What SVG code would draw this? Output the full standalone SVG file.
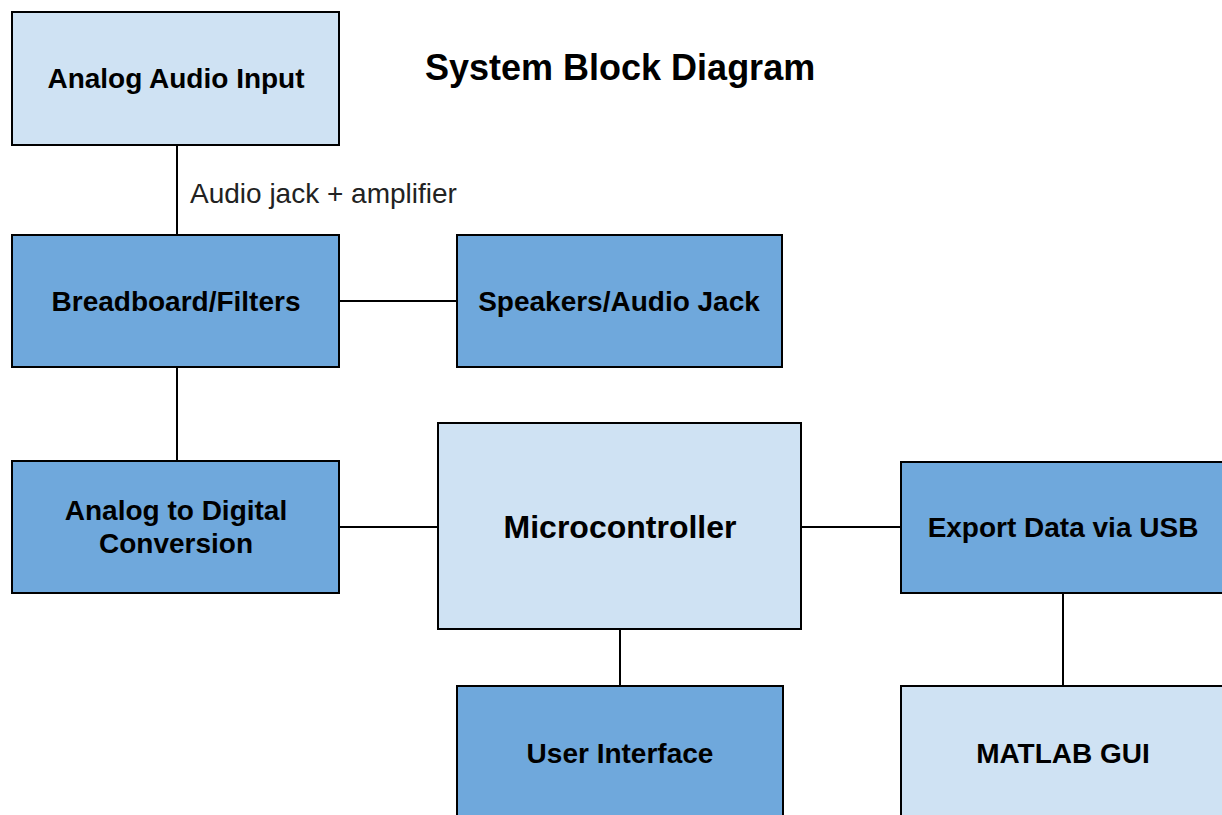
<svg xmlns="http://www.w3.org/2000/svg" width="1222" height="815" viewBox="0 0 1222 815">
<style>
.box{stroke:#000;stroke-width:2}
.light{fill:#cfe2f3}
.dark{fill:#6fa8dc}
.t{font-family:"Liberation Sans",Arial,sans-serif;font-weight:bold;font-size:28px;fill:#000;text-anchor:middle}
.big{font-size:32px}
.conn{stroke:#000;stroke-width:2;fill:none}
.lbl{font-family:"Liberation Sans",Arial,sans-serif;font-size:28px;fill:#222}
.title{font-family:"Liberation Sans",Arial,sans-serif;font-weight:bold;font-size:36px;fill:#000}
</style>
<rect width="1222" height="815" fill="#fff"/>
<g id="connectors">
<line class="conn" x1="177" y1="145" x2="177" y2="235"/>
<line class="conn" x1="339" y1="301" x2="457" y2="301"/>
<line class="conn" x1="177" y1="367" x2="177" y2="461"/>
<line class="conn" x1="339" y1="527" x2="438" y2="527"/>
<line class="conn" x1="801" y1="527" x2="901" y2="527"/>
<line class="conn" x1="620" y1="629" x2="620" y2="686"/>
<line class="conn" x1="1063" y1="593" x2="1063" y2="686"/>
<text class="lbl" x="190" y="203">Audio jack + amplifier</text>
</g>
<text id="title" class="title" x="425" y="80">System Block Diagram</text>
<g id="analog-audio-input">
<rect class="box light" x="12" y="12" width="327" height="133"/>
<text class="t" x="176" y="88">Analog Audio Input</text>
</g>
<g id="breadboard-filters">
<rect class="box dark" x="12" y="235" width="327" height="132"/>
<text class="t" x="176" y="311">Breadboard/Filters</text>
</g>
<g id="speakers-audio-jack">
<rect class="box dark" x="457" y="235" width="325" height="132"/>
<text class="t" x="619" y="311">Speakers/Audio Jack</text>
</g>
<g id="adc">
<rect class="box dark" x="12" y="461" width="327" height="132"/>
<text class="t" x="176" y="520">Analog to Digital</text>
<text class="t" x="176" y="553">Conversion</text>
</g>
<g id="microcontroller">
<rect class="box light" x="438" y="423" width="363" height="206"/>
<text class="t big" x="620" y="538">Microcontroller</text>
</g>
<g id="export-usb">
<rect class="box dark" x="901" y="462" width="326" height="131"/>
<text class="t" x="1063" y="537">Export Data via USB</text>
</g>
<g id="user-interface">
<rect class="box dark" x="457" y="686" width="326" height="140"/>
<text class="t" x="620" y="763">User Interface</text>
</g>
<g id="matlab-gui">
<rect class="box light" x="901" y="686" width="326" height="140"/>
<text class="t" x="1063" y="763">MATLAB GUI</text>
</g>
</svg>
